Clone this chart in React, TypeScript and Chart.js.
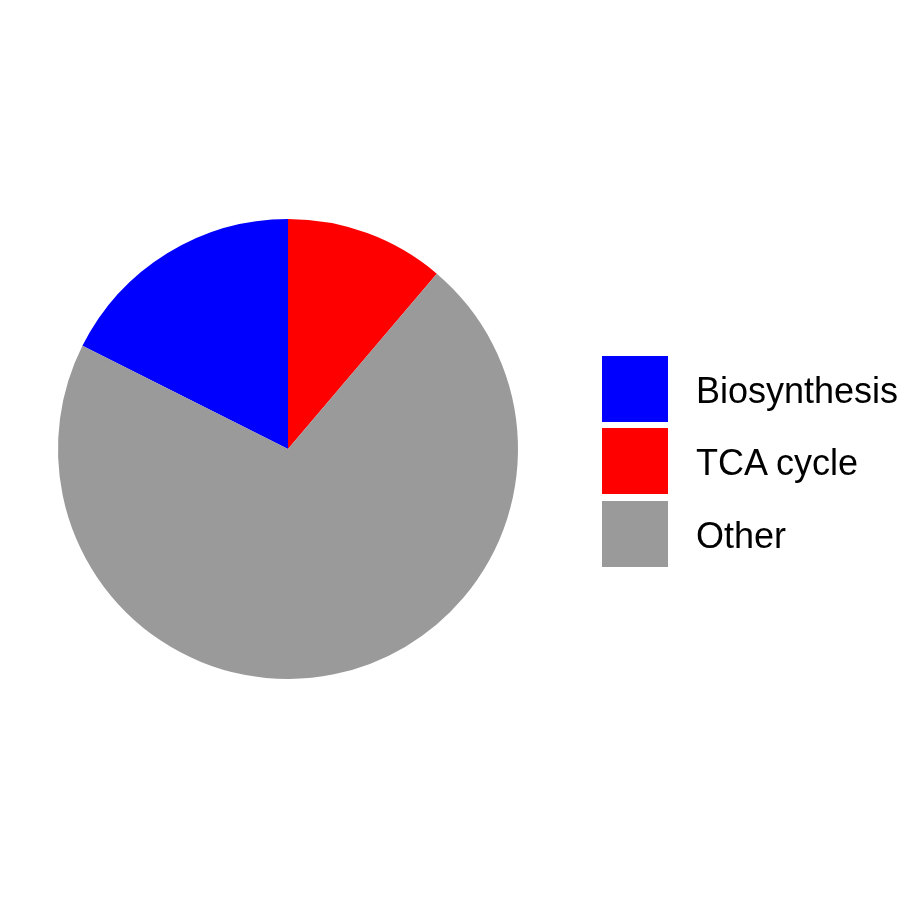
import React, { useEffect, useRef } from "react";
import { Chart, registerables } from "chart.js";

Chart.register(...registerables);

const categories = ["Biosynthesis", "TCA cycle", "Other"];
const shares = [17.6, 11.2, 71.2];
const colors = ["#0000FF", "#FF0000", "#9A9A9A"];

export default function App() {
  const ref = useRef<HTMLCanvasElement | null>(null);

  useEffect(() => {
    if (!ref.current) return;
    const startDeg = -(shares[0] / shares.reduce((a, b) => a + b, 0)) * 360;
    const chart = new Chart(ref.current, {
      type: "pie",
      data: {
        labels: categories,
        datasets: [
          {
            data: shares,
            backgroundColor: colors,
            borderWidth: 0,
          },
        ],
      },
      options: {
        animation: false,
        responsive: false,
        rotation: startDeg,
        layout: { padding: { left: 58, right: 382, top: 219, bottom: 221 } },
        plugins: {
          legend: { display: false },
          tooltip: { enabled: false },
        },
      },
    });
    return () => chart.destroy();
  }, []);

  return (
    <div
      style={{
        position: "fixed",
        left: 0,
        top: 0,
        width: 900,
        height: 900,
        background: "#fff",
      }}
    >
      <canvas ref={ref} width={900} height={900} style={{ position: "absolute", left: 0, top: 0 }} />
      <div
        style={{
          position: "absolute",
          left: 602,
          top: 356,
          fontFamily: "'Liberation Sans', Arial, sans-serif",
          fontSize: 36,
          color: "#000",
        }}
      >
        {categories.map((c, i) => (
          <div
            key={c}
            style={{ display: "flex", alignItems: "center", height: 66, marginBottom: 6.3 }}
          >
            <div style={{ width: 66, height: 66, background: colors[i] }} />
            <span style={{ marginLeft: 28, lineHeight: "66px", position: "relative", top: 2 }}>{c}</span>
          </div>
        ))}
      </div>
    </div>
  );
}
